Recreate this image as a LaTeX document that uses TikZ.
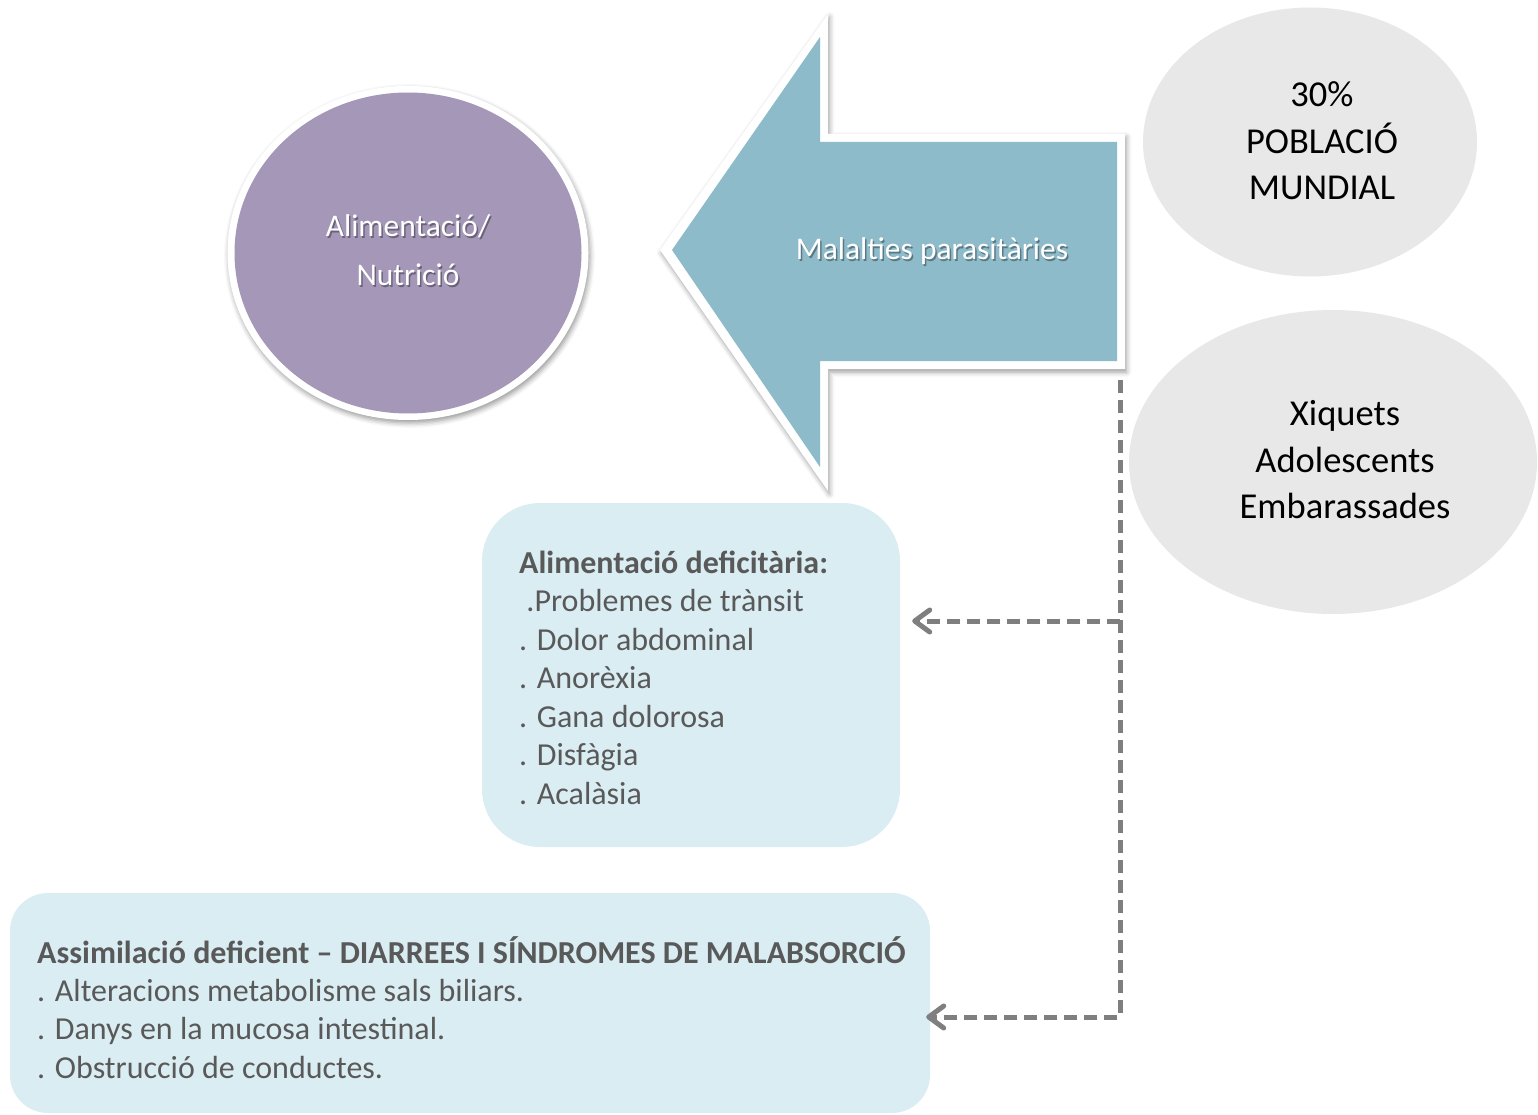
\documentclass[tikz,border=0pt]{standalone}
\usepackage{fontspec}
\setmainfont{Carlito}
\usetikzlibrary{shapes.geometric,shadows.blur,arrows.meta}

\definecolor{plum}{HTML}{A497B8}
\definecolor{teal}{HTML}{8EBBCA}
\definecolor{mist}{HTML}{E8E8E8}
\definecolor{pale}{HTML}{DAEDF3}
\definecolor{ink}{HTML}{595959}
\definecolor{linkgray}{HTML}{7F7F7F}

\tikzset{
  softshadow/.style={blur shadow={shadow xshift=1.5pt, shadow yshift=-3pt,
      shadow blur radius=5pt, shadow opacity=40}},
  glow/.style={font=\fontsize{31.5}{40}\selectfont, text=white},
  glowshade/.style={font=\fontsize{31.5}{40}\selectfont, text=black, opacity=0.35},
  bubble/.style={ellipse, fill=mist, inner sep=0pt},
  bubbletext/.style={font=\fontsize{36.5}{46.5}\selectfont, align=center, text=black},
  panel/.style={fill=pale, inner sep=0pt},
  itemline/.style={anchor=base west, text=ink, inner sep=0pt,
      font=\fontsize{32}{38.5}\selectfont},
  headline/.style={itemline, font=\fontsize{32}{38.5}\selectfont\bfseries},
  conn/.style={draw=linkgray, line width=5pt, dash pattern=on 13pt off 7pt,
      -{Straight Barb[length=15pt, width=22pt, line cap=round, line join=round]}},
}

\begin{document}
\begin{tikzpicture}[x=1pt, y=-1pt]
\useasboundingbox (0,0) rectangle (1538,1115);

% purple disc on a white rim
\node[ellipse, fill=white, softshadow, inner sep=0pt,
      minimum width=361pt, minimum height=334pt] (foodrim) at (408,253) {};
\node[ellipse, fill=plum, inner sep=0pt,
      minimum width=347pt, minimum height=321pt] (food) at (408,253) {};
\node[glowshade, xshift=1.5pt, yshift=-2pt] at (408,226) {Alimentació/};
\node[glowshade, xshift=1.5pt, yshift=-2pt] at (408,275) {Nutrició};
\node[glow] (foodA) at (408,226) {Alimentació/};
\node[glow] (foodB) at (408,275) {Nutrició};

% big left-pointing block arrow: white rim first, then the teal body
\fill[white, softshadow]
  (660,250) -- (828,14) -- (828,134) -- (1125,134) -- (1125,369)
  -- (828,369) -- (828,491) -- cycle;
\fill[teal]
  (672,250) -- (820,37) -- (820,142) -- (1117,142) -- (1117,361)
  -- (820,361) -- (820,467) -- cycle;
\node[glowshade, xshift=1.5pt, yshift=-2pt] at (932,251) {Malalties parasitàries};
\node[glow] (parasit) at (932,251) {Malalties parasitàries};

% grey bubbles
\node[bubble, minimum width=334pt, minimum height=269pt] (pop) at (1310,142) {};
\node[bubbletext] (popT) at (1322,141) {30\%\\POBLACIÓ\\MUNDIAL};
\node[bubble, minimum width=408pt, minimum height=304pt] (groups) at (1333,462) {};
\node[bubbletext] (groupsT) at (1345,460) {Xiquets\\Adolescents\\Embarassades};

% symptom panels
\node[panel, rounded corners=58pt, minimum width=418pt, minimum height=344pt] (deficit) at (691,675) {};
\node[headline] (d0) at (519,573) {Alimentació deficitària:};
\node[itemline] (d1) at (519,611) {\ .Problemes de trànsit};
\node[itemline] (d2) at (519,650) {. Dolor abdominal};
\node[itemline] (d3) at (519,688) {. Anorèxia};
\node[itemline] (d4) at (519,727) {. Gana dolorosa};
\node[itemline] (d5) at (519,765) {. Disfàgia};
\node[itemline] (d6) at (519,804) {. Acalàsia};

\node[panel, rounded corners=38pt, minimum width=920pt, minimum height=220pt] (absorb) at (470,1003) {};
\node[headline] (a0) at (37,963) {Assimilació deficient – DIARREES I SÍNDROMES DE MALABSORCIÓ};
\node[itemline] (a1) at (37,1001) {. Alteracions metabolisme sals biliars.};
\node[itemline] (a2) at (37,1039) {. Danys en la mucosa intestinal.};
\node[itemline] (a3) at (37,1078) {. Obstrucció de conductes.};

% dashed links
\coordinate (tap) at (1120,380);
\coordinate (fork) at (1120,621);
\coordinate (knee) at (1120,1017);
\draw[conn] (tap) -- (knee) -- ([xshift=-4pt]knee -| absorb.east);
\draw[conn, shorten >=12pt] (fork) -- (fork -| deficit.east);
\end{tikzpicture}
\end{document}
